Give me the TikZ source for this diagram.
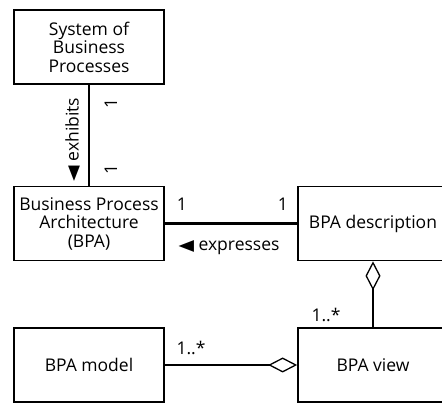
\documentclass[tikz,border=0pt]{standalone}
\usepackage{fontspec}
\usepackage{graphicx}
\setmainfont{Open Sans}
\newfontfamily\symf{DejaVu Sans}
\newcommand\lefttri{{\symf\fontsize{15.5}{17}\selectfont\scalebox{1.3}[1]{◀}}}
\usetikzlibrary{arrows.meta}
\begin{document}
\begin{tikzpicture}[x=1pt,y=-1pt,
  box/.style={draw,line width=1.7pt,minimum width=150pt,minimum height=74pt,inner sep=2pt,align=center,font=\fontsize{17.5}{18.5}\selectfont},
  conn/.style={line width=2.7pt},
  lbl/.style={inner sep=1pt,font=\fontsize{17.5}{18.5}\selectfont},
  agg/.style={{Diamond[open,length=29pt,width=15pt,line width=1.3pt]}-}]
\useasboundingbox (0,0) rectangle (442,403);
\clip (0,0) rectangle (442,403);
\node[box] (sbp) at (89,47) {System of\\Business\\Processes};
\node[box] (bpa) at (89,223.5) {Business Process\\Architecture\\(BPA)};
\node[box] (desc) at (373,223.5) {BPA description};
\node[box] (model) at (89,365) {BPA model};
\node[box] (view) at (373,365) {BPA view};
\draw[conn] (sbp) -- (bpa);
\draw[conn] (bpa) -- (desc);
\draw[conn,agg] (desc) -- (view);
\draw[conn,agg] (view) -- (model);
\node[lbl,rotate=90] (ex) at (73,139.5) {\lefttri{} exhibits};
\node[lbl,rotate=90] (m1) at (111,104) {1};
\node[lbl,rotate=90] (m2) at (111,169) {1};
\node[lbl] (m3) at (182,204) {1};
\node[lbl] (m4) at (283,204) {1};
\node[lbl] (expr) at (229,248) {\lefttri{} expresses};
\node[lbl] (m5) at (326,315) {1..*};
\node[lbl] (m6) at (191,348) {1..*};
\end{tikzpicture}
\end{document}
